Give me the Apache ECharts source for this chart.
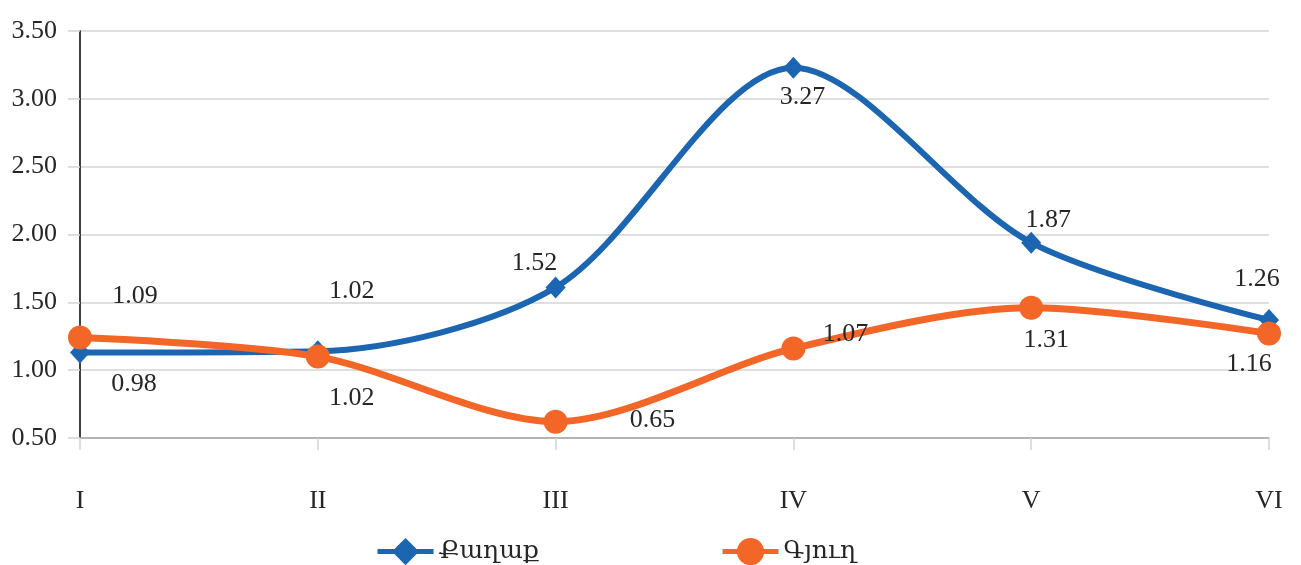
<!DOCTYPE html>
<html>
<head>
<meta charset="utf-8">
<script src="https://cdn.jsdelivr.net/npm/echarts@6/dist/echarts.min.js"></script>
<style>
html,body{margin:0;padding:0;background:#fff;}
#chart{width:1301px;height:565px;}
</style>
</head>
<body>
<div id="chart"></div>
<script>
// ---- data ----
const categories = ['I', 'II', 'III', 'IV', 'V', 'VI'];
const seriesNames = ['Քաղաք', 'Գյուղ'];
// plotted positions as drawn in the picture
const cityValues = [1.13, 1.14, 1.61, 3.23, 1.94, 1.37];
const villageValues = [1.24, 1.10, 0.62, 1.16, 1.46, 1.27];
// data-label texts as printed in the picture
const cityLabels = ['0.98', '1.02', '1.52', '3.27', '1.87', '1.26'];
const villageLabels = ['1.09', '1.02', '0.65', '1.07', '1.31', '1.16'];
const yTicks = [0.5, 1.0, 1.5, 2.0, 2.5, 3.0, 3.5];

// ---- styles (label placement offsets, px) ----
const cityLabelOffsets = [[54, 32], [34, -60], [-21, -24], [9, 30], [17, -22], [-12, -41]];
const villageLabelOffsets = [[55, -41], [34, 42], [97, -2], [52, -14], [15, 32], [-20, 31]];

const FONT = '"Liberation Serif", "DejaVu Serif", serif';
const TXT = '#262626';
const BLUE = '#1b65b1';
const ORANGE = '#f26627';

function buildData(values, labels, offsets) {
  return values.map((v, i) => ({
    value: v,
    label: { formatter: labels[i], offset: offsets[i] }
  }));
}

const legendCommon = {
  top: 533, itemWidth: 56, itemHeight: 34, itemGap: 7,
  lineStyle: { width: 5 },
  textStyle: { fontFamily: FONT, fontSize: 25, color: TXT }
};

const chart = echarts.init(document.getElementById('chart'));
chart.setOption({
  animation: false,
  textStyle: { fontFamily: FONT },
  grid: { left: 80, right: 32, top: 31, bottom: 127, containLabel: false },
  legend: [
    Object.assign({ data: [seriesNames[0]], left: 370 }, legendCommon),
    Object.assign({ data: [seriesNames[1]], left: 715 }, legendCommon)
  ],
  xAxis: {
    type: 'category',
    data: categories,
    boundaryGap: false,
    axisLine: { show: true, lineStyle: { color: '#a6a6a6', width: 1.5 } },
    axisTick: { show: true, length: 12, lineStyle: { color: '#d4d4d4', width: 1.5 } },
    axisLabel: { fontFamily: FONT, fontSize: 26, color: TXT, margin: 50 },
    splitLine: { show: false }
  },
  yAxis: {
    type: 'value',
    min: yTicks[0], max: yTicks[yTicks.length - 1], interval: 0.5,
    axisLine: { show: true, lineStyle: { color: '#000', width: 1.5 } },
    axisTick: { show: true, length: 12, lineStyle: { color: '#d4d4d4', width: 1.5 } },
    axisLabel: {
      fontFamily: FONT, fontSize: 26, color: TXT, margin: 23,
      formatter: v => v.toFixed(2)
    },
    splitLine: { show: true, lineStyle: { color: '#d4d4d4', width: 1.5 } }
  },
  series: [
    {
      name: seriesNames[0], type: 'line', smooth: 0.3,
      data: buildData(cityValues, cityLabels, cityLabelOffsets),
      symbol: 'diamond', symbolSize: [20, 22],
      itemStyle: { color: BLUE },
      lineStyle: { color: BLUE, width: 6 },
      label: { show: true, position: 'inside', fontFamily: FONT, fontSize: 26, color: TXT },
      z: 3
    },
    {
      name: seriesNames[1], type: 'line', smooth: 0.3,
      data: buildData(villageValues, villageLabels, villageLabelOffsets),
      symbol: 'circle', symbolSize: 24,
      itemStyle: { color: ORANGE },
      lineStyle: { color: ORANGE, width: 7 },
      label: { show: true, position: 'inside', fontFamily: FONT, fontSize: 26, color: TXT },
      z: 4
    }
  ]
});
</script>
</body>
</html>
